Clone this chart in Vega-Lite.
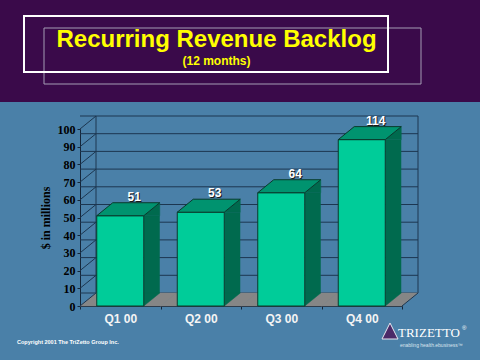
{
  "$schema": "https://vega.github.io/schema/vega-lite/v6.json",
  "width": 322,
  "height": 177,
  "autosize": {"type": "none"},
  "padding": {"left": 80, "top": 129, "right": 78, "bottom": 54},
  "background": "#4a80a8",
  "config": {
    "view": {"stroke": null},
    "font": "Liberation Sans",
    "axisY": {"labelOverlap": false, "labelSeparation": 0}
  },
  "datasets": {
    "backlog": [
      {"quarter": "Q1 00", "value": 51, "drawn": 51},
      {"quarter": "Q2 00", "value": 53, "drawn": 53},
      {"quarter": "Q3 00", "value": 64, "drawn": 64},
      {"quarter": "Q4 00", "value": 114, "drawn": 94}
    ],
    "ticks": [
      {"v": 0}, {"v": 10}, {"v": 20}, {"v": 30}, {"v": 40}, {"v": 50},
      {"v": 60}, {"v": 70}, {"v": 80}, {"v": 90}, {"v": 100}
    ]
  },
  "layer": [
    {
      "data": {"values": [{}]},
      "mark": {"type": "rect", "color": "#3a0a4a"},
      "encoding": {"x": {"value": -80}, "x2": {"value": 400}, "y": {"value": -129}, "y2": {"value": -27}}
    },
    {
      "data": {"values": [{}]},
      "mark": {"type": "rect", "fillOpacity": 0, "stroke": "#a49cb4", "strokeWidth": 1},
      "encoding": {"x": {"value": -36}, "x2": {"value": 341}, "y": {"value": -101}, "y2": {"value": -45}}
    },
    {
      "data": {"values": [{}]},
      "mark": {"type": "rect", "fillOpacity": 0, "stroke": "#ffffff", "strokeWidth": 2},
      "encoding": {"x": {"value": -56}, "x2": {"value": 308}, "y": {"value": -113}, "y2": {"value": -57}}
    },
    {
      "data": {"name": "backlog"},
      "mark": {"type": "bar", "color": "#00cc99", "stroke": "#0a3a2c", "strokeWidth": 1, "width": 47, "opacity": 0},
      "encoding": {
        "x": {
          "field": "quarter", "type": "nominal", "sort": null,
          "scale": {"paddingInner": 0, "paddingOuter": 0},
          "axis": {
            "title": null, "labelAngle": 0, "labelFont": "Liberation Sans", "labelFontWeight": "bold",
            "labelFontSize": 12, "labelColor": "#f4f4f4", "tickBand": "extent", "tickSize": 3,
            "tickColor": "#14263a", "domainColor": "#14263a", "labelPadding": 4
          }
        },
        "y": {
          "field": "drawn", "type": "quantitative",
          "scale": {"domain": [0, 100], "nice": false},
          "axis": {
            "values": [0, 10, 20, 30, 40, 50, 60, 70, 80, 90, 100],
            "labelOverlap": false,
            "title": "$ in millions", "grid": false,
            "domainColor": "#14263a", "tickColor": "#14263a", "tickSize": 3,
            "labelFont": "Liberation Serif", "labelFontWeight": "bold", "labelFontSize": 12,
            "labelColor": "#000000", "labelPadding": 2,
            "titleFont": "Liberation Serif", "titleFontWeight": "bold", "titleFontSize": 12,
            "titleColor": "#000000", "titlePadding": 5
          }
        }
      }
    },
    {
      "data": {"name": "ticks"},
      "mark": {"type": "rule", "color": "#1c3650", "strokeWidth": 1, "xOffset": 16, "x2Offset": 16, "yOffset": -13},
      "encoding": {"y": {"field": "v", "type": "quantitative", "title": "$ in millions", "axis": {"values": [0, 10, 20, 30, 40, 50, 60, 70, 80, 90, 100]}}}
    },
    {
      "data": {"values": [{}]},
      "mark": {"type": "rule", "color": "#1c3650", "strokeWidth": 1, "yOffset": -13, "y2Offset": -13},
      "encoding": {"x": {"value": 16}, "y": {"datum": 0, "type": "quantitative", "title": "$ in millions", "axis": {"values": [0, 10, 20, 30, 40, 50, 60, 70, 80, 90, 100]}}, "y2": {"datum": 100}}
    },
    {
      "data": {"values": [{}]},
      "mark": {"type": "rule", "color": "#1c3650", "strokeWidth": 1, "yOffset": -13, "y2Offset": -13},
      "encoding": {"x": {"value": 338}, "y": {"datum": 0, "type": "quantitative", "title": "$ in millions", "axis": {"values": [0, 10, 20, 30, 40, 50, 60, 70, 80, 90, 100]}}, "y2": {"datum": 100}}
    },
    {
      "data": {"name": "backlog"},
      "mark": {"type": "point", "shape": "M -1 0.1347 L 0.6684 0.1347 L 1 -0.1347 L -0.6684 -0.1347 Z", "size": 9312, "filled": true, "opacity": 1, "fill": "#868686", "stroke": "#868686", "strokeWidth": 0.5, "xOffset": 8, "yOffset": -6.5},
      "encoding": {
        "x": {"field": "quarter", "type": "nominal", "sort": null, "title": null},
        "y": {"datum": 0, "type": "quantitative", "title": "$ in millions", "axis": {"values": [0, 10, 20, 30, 40, 50, 60, 70, 80, 90, 100]}}
      }
    },
    {
      "data": {"name": "ticks"},
      "mark": {"type": "rule", "color": "#1c3650", "strokeWidth": 1, "y2Offset": -13},
      "encoding": {
        "x": {"value": 0}, "x2": {"value": 16},
        "y": {"field": "v", "type": "quantitative", "title": "$ in millions", "axis": {"values": [0, 10, 20, 30, 40, 50, 60, 70, 80, 90, 100]}},
        "y2": {"field": "v"}
      }
    },
    {
      "data": {"values": [{}]},
      "mark": {"type": "rule", "color": "#1c3650", "strokeWidth": 1, "y2Offset": -13},
      "encoding": {"x": {"value": 322}, "x2": {"value": 338}, "y": {"datum": 0, "type": "quantitative", "title": "$ in millions", "axis": {"values": [0, 10, 20, 30, 40, 50, 60, 70, 80, 90, 100]}}, "y2": {"datum": 0}}
    },
    {
      "data": {"name": "backlog"},
      "mark": {"type": "bar", "color": "#006a4e", "width": 16, "xOffset": 31.5, "y2Offset": -13},
      "encoding": {
        "x": {"field": "quarter", "type": "nominal", "sort": null, "title": null},
        "y": {"field": "drawn", "type": "quantitative", "title": "$ in millions", "axis": {"values": [0, 10, 20, 30, 40, 50, 60, 70, 80, 90, 100]}},
        "y2": {"datum": 0}
      }
    },
    {
      "data": {"name": "backlog"},
      "mark": {"type": "point", "shape": "M -1 0.8125 L 1 -0.8125 L 1 0.8125 Z", "size": 256, "filled": true, "opacity": 1, "fill": "#006a4e", "stroke": "#006a4e", "strokeWidth": 0.5, "xOffset": 31.5, "yOffset": -6.5},
      "encoding": {
        "x": {"field": "quarter", "type": "nominal", "sort": null, "title": null},
        "y": {"field": "drawn", "type": "quantitative", "title": "$ in millions", "axis": {"values": [0, 10, 20, 30, 40, 50, 60, 70, 80, 90, 100]}}
      }
    },
    {
      "data": {"name": "backlog"},
      "mark": {"type": "point", "shape": "M -1 -0.8125 L -1 0.8125 L 1 -0.8125 Z", "size": 256, "filled": true, "opacity": 1, "fill": "#006a4e", "stroke": "#006a4e", "strokeWidth": 0.5, "xOffset": 31.5, "yOffset": -6.5},
      "encoding": {
        "x": {"field": "quarter", "type": "nominal", "sort": null, "title": null},
        "y": {"datum": 0, "type": "quantitative", "title": "$ in millions", "axis": {"values": [0, 10, 20, 30, 40, 50, 60, 70, 80, 90, 100]}}
      }
    },
    {
      "data": {"name": "backlog"},
      "mark": {"type": "bar", "color": "#00cc99", "stroke": "#0a3a2c", "strokeWidth": 1, "width": 47},
      "encoding": {
        "x": {"field": "quarter", "type": "nominal", "sort": null, "title": null},
        "y": {"field": "drawn", "type": "quantitative", "title": "$ in millions", "axis": {"values": [0, 10, 20, 30, 40, 50, 60, 70, 80, 90, 100]}}
      }
    },
    {
      "data": {"name": "backlog"},
      "mark": {"type": "point", "shape": "M -1 0.2063 L 0.4921 0.2063 L 1 -0.2063 L -0.4921 -0.2063 Z", "size": 3969, "filled": true, "opacity": 1, "fill": "#00936f", "stroke": "#0a3a2c", "strokeWidth": 1, "xOffset": 8, "yOffset": -6.5},
      "encoding": {
        "x": {"field": "quarter", "type": "nominal", "sort": null, "title": null},
        "y": {"field": "drawn", "type": "quantitative", "title": "$ in millions", "axis": {"values": [0, 10, 20, 30, 40, 50, 60, 70, 80, 90, 100]}}
      }
    },
    {
      "data": {"name": "backlog"},
      "mark": {"type": "text", "font": "Liberation Sans", "fontWeight": "bold", "fontSize": 12, "color": "#1a1a1a", "dx": 15, "dy": -18, "baseline": "middle"},
      "encoding": {
        "x": {"field": "quarter", "type": "nominal", "sort": null, "title": null},
        "y": {"field": "drawn", "type": "quantitative", "title": "$ in millions", "axis": {"values": [0, 10, 20, 30, 40, 50, 60, 70, 80, 90, 100]}},
        "text": {"field": "value", "type": "quantitative"}
      }
    },
    {
      "data": {"name": "backlog"},
      "mark": {"type": "text", "font": "Liberation Sans", "fontWeight": "bold", "fontSize": 12, "color": "#ffffff", "dx": 14, "dy": -19, "baseline": "middle"},
      "encoding": {
        "x": {"field": "quarter", "type": "nominal", "sort": null, "title": null},
        "y": {"field": "drawn", "type": "quantitative", "title": "$ in millions", "axis": {"values": [0, 10, 20, 30, 40, 50, 60, 70, 80, 90, 100]}},
        "text": {"field": "value", "type": "quantitative"}
      }
    },
    {
      "data": {"values": [{}]},
      "mark": {"type": "text", "text": "Recurring Revenue Backlog", "font": "Liberation Sans", "fontWeight": "bold", "fontSize": 24, "color": "#ffff00", "align": "center", "baseline": "alphabetic"},
      "encoding": {"x": {"value": 136.5}, "y": {"value": -82}}
    },
    {
      "data": {"values": [{}]},
      "mark": {"type": "text", "text": "(12 months)", "font": "Liberation Sans", "fontWeight": "bold", "fontSize": 12, "color": "#ffff00", "align": "center", "baseline": "alphabetic"},
      "encoding": {"x": {"value": 136.5}, "y": {"value": -64}}
    },
    {
      "data": {"values": [{}]},
      "mark": {"type": "text", "text": "Copyright 2001  The TriZetto Group Inc.", "font": "Liberation Sans", "fontWeight": "bold", "fontSize": 5.5, "color": "#ffffff", "align": "left", "baseline": "alphabetic"},
      "encoding": {"x": {"value": -63}, "y": {"value": 215}}
    },
    {
      "data": {"values": [{}]},
      "mark": {"type": "point", "shape": "M 0 -1 L 1 1 L -1 1 Z", "size": 256, "filled": true, "opacity": 1, "fill": "#4b2a68", "stroke": "#e8e8f0", "strokeWidth": 1},
      "encoding": {"x": {"value": 310}, "y": {"value": 202}}
    },
    {
      "data": {"values": [{}]},
      "mark": {"type": "text", "text": "TRIZETTO", "font": "Liberation Serif", "fontSize": 13, "color": "#ffffff", "align": "left", "baseline": "alphabetic"},
      "encoding": {"x": {"value": 318}, "y": {"value": 208}}
    },
    {
      "data": {"values": [{}]},
      "mark": {"type": "text", "text": "®", "font": "Liberation Sans", "fontSize": 6, "color": "#ffffff", "align": "left", "baseline": "alphabetic"},
      "encoding": {"x": {"value": 382}, "y": {"value": 201}}
    },
    {
      "data": {"values": [{}]},
      "mark": {"type": "text", "text": "enabling health.ebusiness™", "font": "Liberation Sans", "fontWeight": "normal", "fontSize": 5, "color": "#dde6ee", "align": "left", "baseline": "alphabetic"},
      "encoding": {"x": {"value": 320}, "y": {"value": 218}}
    }
  ]
}
